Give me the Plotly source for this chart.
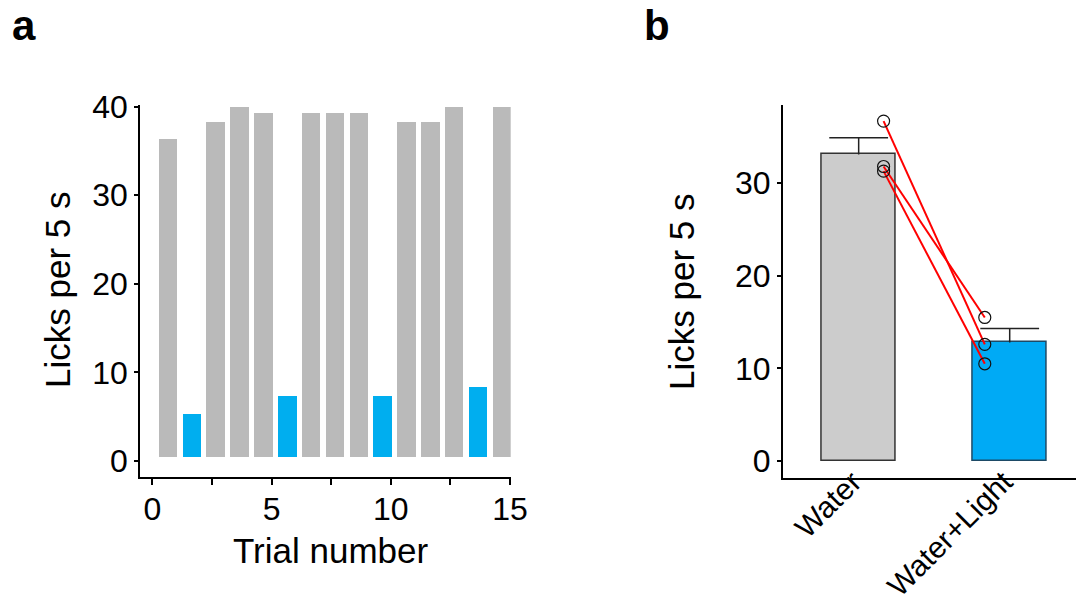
import plotly.graph_objects as go

# ---------------- data ----------------
trials = list(range(1, 16))
licks_per_trial = [36.3, 5.3, 38.3, 40.0, 39.3, 7.3, 39.3, 39.3, 39.3, 7.3, 38.3, 38.3, 40.0, 8.4, 40.0]
light_on = [0, 1, 0, 0, 0, 1, 0, 0, 0, 1, 0, 0, 0, 1, 0]

conditions = ["Water", "Water+Light"]
mean_licks = [33.1, 12.8]
sem_licks = [1.8, 1.5]
subject_water = [36.7, 31.8, 31.3]
subject_light = [12.6, 15.5, 10.5]

x_ticks_a = [0, 2.5, 5, 7.5, 10, 12.5, 15]
x_ticktext_a = ["0", "", "5", "", "10", "", "15"]
y_ticks_a = [0, 10, 20, 30, 40]
y_ticks_b = [0, 10, 20, 30]

# ---------------- style ----------------
W, H = 1076, 611
FONT = "Liberation Sans, Arial, Helvetica, sans-serif"
GREY_A = "#BABABA"
BLUE_A = "#00AEEF"
GREY_B = "#CCCCCC"
BLUE_B = "#00AAF5"
BAR_BASE = 0.5
BAR_SHIFT = -0.34
PT_OFFSET = 0.165


def px(x):
    return x / W


def py(y):
    return 1 - y / H


fig = go.Figure()

# Panel a bars
fig.add_trace(go.Bar(
    x=[t + BAR_SHIFT for t in trials],
    y=[v - BAR_BASE for v in licks_per_trial],
    base=BAR_BASE,
    width=0.78,
    marker=dict(color=[BLUE_A if on else GREY_A for on in light_on], line=dict(width=0)),
    xaxis="x", yaxis="y", showlegend=False,
))

# Panel b bars
fig.add_trace(go.Bar(
    x=[0, 1],
    y=mean_licks,
    width=0.49,
    marker=dict(color=[GREY_B, BLUE_B], line=dict(color=["#333333", "#1d4a66"], width=1.5)),
    xaxis="x2", yaxis="y2", showlegend=False,
))

# upward error stems (no caps) and top caps
fig.add_trace(go.Scatter(
    x=[0, 1], y=mean_licks, mode="markers", marker=dict(size=0.1, opacity=0),
    error_y=dict(type="data", array=sem_licks, arrayminus=[0, 0], symmetric=False,
                 color="#222222", thickness=1.5, width=0),
    xaxis="x2", yaxis="y2", showlegend=False, hoverinfo="skip",
))
fig.add_trace(go.Scatter(
    x=[0, 1], y=[m + s for m, s in zip(mean_licks, sem_licks)], mode="markers",
    marker=dict(symbol="line-ew", size=42, line=dict(color="#222222", width=1.5)),
    xaxis="x2", yaxis="y2", showlegend=False, hoverinfo="skip",
))

# paired subject lines
for a, b in zip(subject_water, subject_light):
    fig.add_trace(go.Scatter(
        x=[0 + PT_OFFSET, 1 - PT_OFFSET], y=[a, b], mode="lines",
        line=dict(color="#FF0000", width=2),
        xaxis="x2", yaxis="y2", showlegend=False,
    ))

fig.add_trace(go.Scatter(
    x=[0 + PT_OFFSET] * len(subject_water) + [1 - PT_OFFSET] * len(subject_light),
    y=subject_water + subject_light,
    mode="markers",
    marker=dict(symbol="circle-open", size=12, color="#111111", line=dict(width=1.2)),
    xaxis="x2", yaxis="y2", showlegend=False,
))

axis_common = dict(
    showline=True, linecolor="black", linewidth=1.5,
    ticks="outside", tickcolor="black", tickwidth=1.5,
    showgrid=False, zeroline=False, automargin=False,
)
tick_font = dict(family=FONT, size=32, color="black")

fig.update_layout(
    width=W, height=H,
    margin=dict(l=0, r=0, t=0, b=0),
    paper_bgcolor="white", plot_bgcolor="white",
    bargap=0,
    xaxis=dict(
        domain=[px(140), px(510.7)], anchor="y",
        range=[-0.516, 15.03],
        tickmode="array", tickvals=x_ticks_a, ticktext=x_ticktext_a,
        ticklen=6, tickfont=tick_font, ticklabelstandoff=-3, **axis_common,
    ),
    yaxis=dict(
        domain=[py(477), py(105)], anchor="x",
        range=[-1.81, 40.18],
        tickmode="array", tickvals=y_ticks_a,
        ticklen=4, tickfont=tick_font, **axis_common,
    ),
    xaxis2=dict(
        domain=[px(782.7), 1.0], anchor="y2",
        range=[-0.503, 1.439],
        tickmode="array", tickvals=[0, 1], ticktext=conditions,
        tickangle=-45, ticklen=0, ticklabelstandoff=-27, ticklabelshift=-6,
        tickfont=dict(family=FONT, size=30, color="black"), **axis_common,
    ),
    yaxis2=dict(
        domain=[py(477.7), py(105)], anchor="x2",
        range=[-1.8, 38.44],
        tickmode="array", tickvals=y_ticks_b,
        ticklen=4, tickfont=tick_font, **axis_common,
    ),
)

annots = [
    dict(text="Licks per 5 s", x=px(57), y=py(290), textangle=-90, size=35),
    dict(text="Trial number", x=px(330), y=py(550), textangle=0, size=35),
    dict(text="Licks per 5 s", x=px(681), y=py(292), textangle=-90, size=35),
]
for a in annots:
    fig.add_annotation(
        text=a["text"], x=a["x"], y=a["y"], xref="paper", yref="paper",
        xanchor="center", yanchor="middle", showarrow=False, textangle=a["textangle"],
        font=dict(family=FONT, size=a["size"], color="black"),
    )

for letter, xpos in [("a", 10), ("b", 642)]:
    fig.add_annotation(
        text="<b>%s</b>" % letter, x=px(xpos), y=py(51), xref="paper", yref="paper",
        xanchor="left", yanchor="bottom", showarrow=False,
        font=dict(family=FONT, size=42, color="black"),
    )

fig.write_html("out.html")
